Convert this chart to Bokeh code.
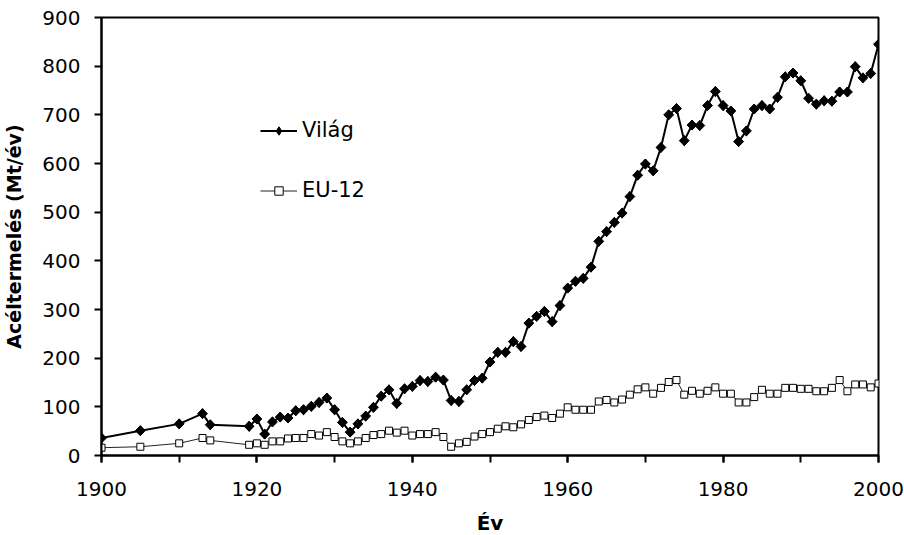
import numpy as np
from bokeh.plotting import figure
from bokeh.models import (Range1d, SingleIntervalTicker, Legend, LegendItem, ColumnDataSource)
from bokeh.embed import file_html
from bokeh.resources import INLINE

years = [1900, 1905, 1910, 1913, 1914, 1919] + list(range(1920, 2001))

vilag = [36, 51, 65, 86, 63, 60,
         75, 44, 69, 79, 77, 92, 94, 101, 109, 118,
         94, 68, 48, 65, 81, 99, 122, 135, 107, 137,
         142, 154, 152, 161, 155, 113, 111, 135, 154, 159,
         192, 212, 212, 234, 224, 272, 286, 296, 275, 308,
         344, 358, 364, 387, 440, 460, 479, 498, 532, 576,
         599, 585, 633, 700, 713, 647, 679, 678, 719, 748,
         719, 708, 645, 667, 712, 719, 712, 736, 778, 786,
         770, 734, 722, 729, 728, 747, 747, 799, 776, 785,
         845]

eu12 = [16, 18, 25, 36, 31, 22,
        25, 22, 29, 29, 35, 36, 36, 44, 41, 48,
        38, 29, 25, 29, 36, 42, 44, 51, 47, 51,
        41, 44, 44, 48, 38, 18, 25, 28, 39, 44,
        48, 55, 60, 58, 64, 73, 79, 82, 77, 86,
        99, 94, 94, 94, 111, 114, 109, 115, 125, 136,
        140, 127, 139, 151, 155, 125, 133, 127, 133, 140,
        127, 127, 109, 109, 120, 135, 127, 127, 139, 139,
        137, 137, 132, 132, 139, 155, 132, 146, 146, 140,
        148]

series_names = ["Világ", "EU-12"]
x_title = "Év"
y_title = "Acéltermelés (Mt/év)"

src = ColumnDataSource(dict(year=years, vilag=vilag, eu12=eu12))

FONT = "DejaVu Sans"

p = figure(width=904, height=535, output_backend="svg", toolbar_location=None,
           x_range=Range1d(1900, 2000), y_range=Range1d(0, 900),
           min_border_left=99, min_border_top=17, min_border_right=28, min_border_bottom=80)
p.frame_width = 777
p.frame_height = 438

p.xgrid.visible = False
p.ygrid.visible = False
p.outline_line_color = "black"
p.outline_line_width = 2
p.background_fill_color = "white"
p.border_fill_color = "white"

p.xaxis.ticker = SingleIntervalTicker(interval=20, num_minor_ticks=2)
p.yaxis.ticker = SingleIntervalTicker(interval=100, num_minor_ticks=0)
for ax in (p.xaxis[0], p.yaxis[0]):
    ax.axis_line_width = 2
    ax.axis_line_color = "black"
    ax.major_tick_line_width = 2
    ax.minor_tick_line_width = 2
    ax.major_tick_in = 0
    ax.major_tick_out = 7
    ax.minor_tick_in = 0
    ax.minor_tick_out = 7
    ax.major_label_text_font = FONT
    ax.major_label_text_font_size = "20px"
    ax.major_label_text_color = "black"
    ax.axis_label_text_font = FONT
    ax.axis_label_text_font_size = "19px"
    ax.axis_label_text_font_style = "bold"
    ax.axis_label_text_color = "black"
p.yaxis.minor_tick_line_color = None
p.xaxis.major_label_standoff = 19
p.yaxis.major_label_standoff = 14
p.xaxis.axis_label = x_title
p.yaxis.axis_label = y_title
p.xaxis.axis_label_standoff = 12
p.yaxis.axis_label_standoff = 14
p.xaxis.axis_label_text_font_size = "20px"

l_eu = p.line("year", "eu12", source=src, line_color="#222222", line_width=1)
m_eu = p.scatter("year", "eu12", source=src, marker="square", size=7,
                 fill_color="white", line_color="black", line_width=1)
l_w = p.line("year", "vilag", source=src, line_color="black", line_width=2)
# diamond glyph (used for the legend) lies under the rotated squares
lg_w = p.scatter("year", "vilag", source=src, marker="diamond", size=10,
                 fill_color="black", line_color="black", line_width=1)
m_w = p.scatter("year", "vilag", source=src, marker="square", angle=np.pi / 4, size=7,
                fill_color="black", line_color="black", line_width=1)

legend = Legend(items=[LegendItem(label=series_names[0], renderers=[l_w, lg_w]),
                       LegendItem(label=series_names[1], renderers=[l_eu, m_eu])],
                location=(159, 253), orientation="vertical",
                border_line_color=None, background_fill_alpha=0,
                padding=0, margin=0, spacing=36,
                glyph_width=37, glyph_height=21, label_height=22,
                label_standoff=5, label_text_font=FONT,
                label_text_font_size="21px", label_text_color="black")
p.add_layout(legend, "center")

open("out.html", "w").write(file_html(p, INLINE))
